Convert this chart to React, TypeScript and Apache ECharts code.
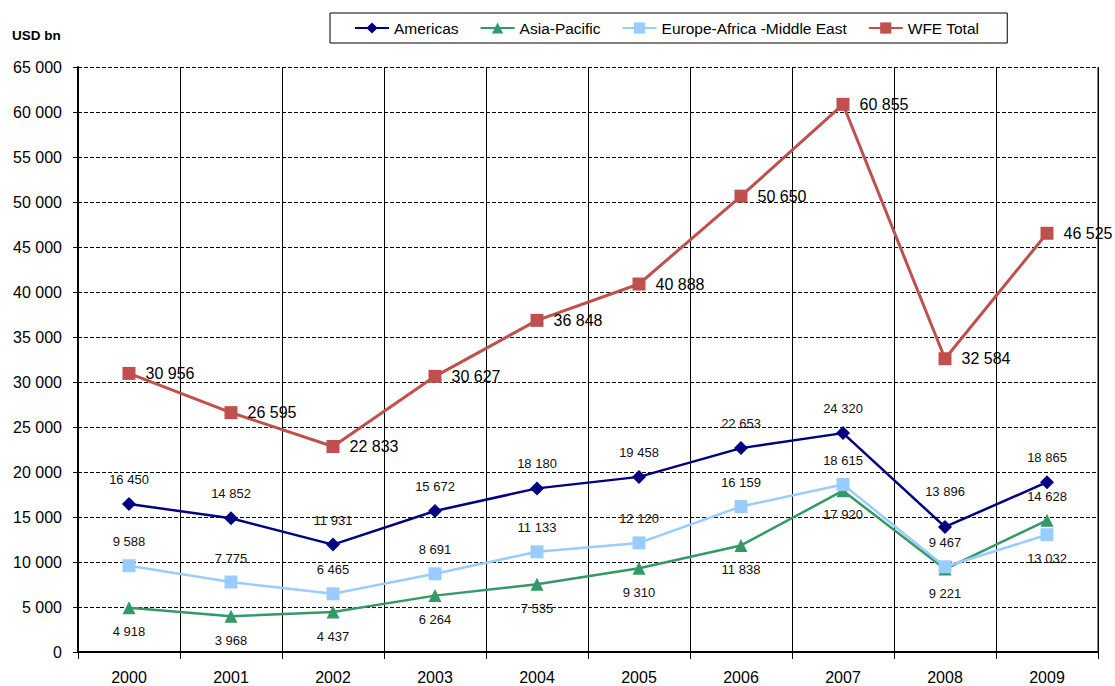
import React, { useEffect, useRef } from "react";
import * as echarts from "echarts";

const years = ["2000", "2001", "2002", "2003", "2004", "2005", "2006", "2007", "2008", "2009"];
const americas = [16450, 14852, 11931, 15672, 18180, 19458, 22653, 24320, 13896, 18865];
const asiaPacific = [4918, 3968, 4437, 6264, 7535, 9310, 11838, 17920, 9221, 14628];
const europe = [9588, 7775, 6465, 8691, 11133, 12120, 16159, 18615, 9467, 13032];
const wfeTotal = [30956, 26595, 22833, 30627, 36848, 40888, 50650, 60855, 32584, 46525];

const asiaLabelPos = ["bottom", "bottom", "bottom", "bottom", "bottom", "bottom", "bottom", "bottom", "bottom", "top"];
const europeLabelPos = ["top", "top", "top", "top", "top", "top", "top", "top", "top", "bottom"];

const fmt = (v: number) => {
  const s = String(Math.round(v));
  return s.replace(/\B(?=(\d{3})+(?!\d))/g, " ");
};

const FONT = "'Liberation Sans', Arial, sans-serif";

export default function App() {
  const ref = useRef<HTMLDivElement>(null);
  useEffect(() => {
    document.body.style.margin = "0";
    const chart = echarts.init(ref.current!, null, { renderer: "svg" });
    const smallLabel = {
      show: true,
      fontSize: 13,
      color: "#111",
      fontFamily: FONT,
      distance: 11,
      formatter: (p: any) => fmt(p.value),
    };
    chart.setOption({
      animation: false,
      textStyle: { fontFamily: FONT },
      grid: { left: 78, right: 17, top: 67, bottom: 34, containLabel: false },
      legend: {
        left: 330,
        top: 13,
        padding: [7, 28, 7, 24],
        borderColor: "#000",
        borderWidth: 1,
        itemWidth: 34,
        itemHeight: 14,
        itemGap: 21,
        textStyle: { fontSize: 15.5, color: "#000", fontFamily: FONT },
        data: ["Americas", "Asia-Pacific", "Europe-Africa -Middle East", "WFE Total"],
      },
      graphic: [
        {
          type: "text",
          left: 12,
          top: 28,
          style: { text: "USD bn", font: `bold 13.5px ${FONT}`, fill: "#000" },
        },
        {
          type: "line",
          shape: { x1: 1098, y1: 67, x2: 1098, y2: 652 },
          style: { stroke: "#888", lineWidth: 2 },
        },
      ],
      xAxis: {
        type: "category",
        data: years,
        boundaryGap: true,
        axisLine: { lineStyle: { color: "#000", width: 2 } },
        axisTick: { show: true, length: 7, lineStyle: { color: "#000", width: 1 } },
        axisLabel: { fontSize: 16, color: "#000", margin: 17, fontFamily: FONT },
        splitLine: { show: true, lineStyle: { color: "#000", width: 1, type: "solid" } },
      },
      yAxis: {
        type: "value",
        min: 0,
        max: 65000,
        interval: 5000,
        axisLine: { show: true, lineStyle: { color: "#000", width: 2 } },
        axisTick: { show: true, length: 5, lineStyle: { color: "#000" } },
        axisLabel: { fontSize: 16, color: "#000", margin: 16, fontFamily: FONT, formatter: (v: number) => fmt(v) },
        splitLine: { show: true, lineStyle: { color: "#000", width: 1, type: [4, 2] } },
      },
      series: [
        {
          name: "Americas",
          type: "line",
          data: americas.map((v, i) => (i === 8 ? { value: v, label: { distance: 22 } } : v)),
          symbol: "diamond",
          symbolSize: 14,
          itemStyle: { color: "#000080" },
          lineStyle: { color: "#000080", width: 2.5 },
          label: { ...smallLabel, position: "top", distance: 11 },
          z: 4,
        },
        {
          name: "Asia-Pacific",
          type: "line",
          data: asiaPacific.map((v, i) => ({ value: v, label: { position: asiaLabelPos[i] } })),
          symbol: "triangle",
          symbolSize: 13,
          itemStyle: { color: "#339966" },
          lineStyle: { color: "#339966", width: 2.5 },
          label: { ...smallLabel },
          z: 3,
        },
        {
          name: "Europe-Africa -Middle East",
          type: "line",
          data: europe.map((v, i) => ({ value: v, label: { position: europeLabelPos[i] } })),
          symbol: "rect",
          symbolSize: 13,
          itemStyle: { color: "#99CCFF" },
          lineStyle: { color: "#99CCFF", width: 2.5 },
          label: { ...smallLabel },
          z: 3,
        },
        {
          name: "WFE Total",
          type: "line",
          data: wfeTotal,
          symbol: "rect",
          symbolSize: 13,
          itemStyle: { color: "#C0504D" },
          lineStyle: { color: "#C0504D", width: 3 },
          label: {
            show: true,
            position: "right",
            distance: 10,
            fontSize: 16,
            color: "#000",
            fontFamily: FONT,
            formatter: (p: any) => fmt(p.value),
          },
          z: 5,
        },
      ],
    });
    return () => chart.dispose();
  }, []);
  return <div ref={ref} style={{ width: 1115, height: 686 }} />;
}
